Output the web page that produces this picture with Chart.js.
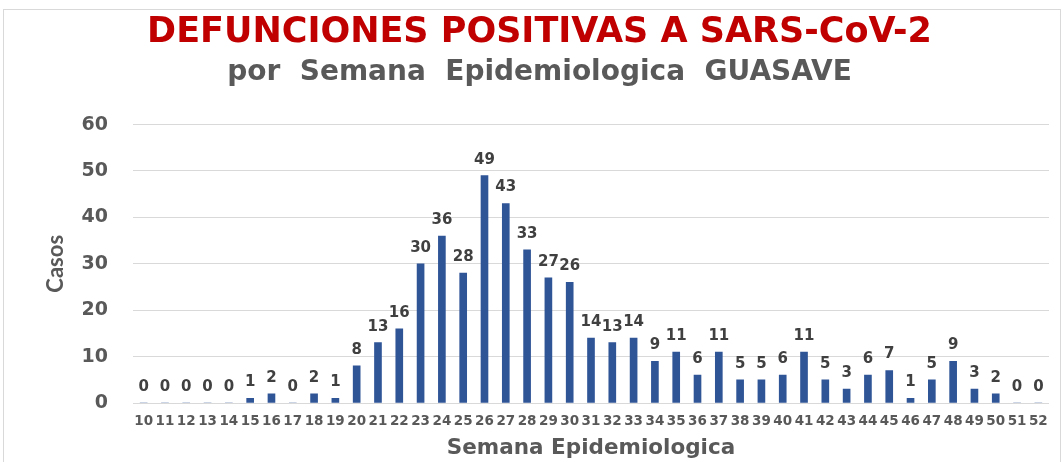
<!DOCTYPE html>
<html>
<head>
<meta charset="utf-8">
<script src="https://cdn.jsdelivr.net/npm/chart.js@4"></script>
<style>
  html, body { margin: 0; padding: 0; background: #ffffff; }
  #frame {
    position: absolute; left: 3px; top: 9px;
    width: 1056px; height: 460px;
    border: 1px solid #d9d9d9;
  }
  #wrap { position: absolute; left: 0; top: 0; width: 1063px; height: 462px; }
</style>
</head>
<body>
<div id="frame"></div>
<div id="wrap"><canvas id="myChart"></canvas></div>
<script>
// semanas epidemiologicas 10..52
const semanas = ['10', '11', '12', '13', '14', '15', '16', '17', '18', '19',
    '20', '21', '22', '23', '24', '25', '26', '27', '28', '29',
    '30', '31', '32', '33', '34', '35', '36', '37', '38', '39',
    '40', '41', '42', '43', '44', '45', '46', '47', '48', '49',
    '50', '51', '52'];

const defunciones = [0, 0, 0, 0, 0, 1, 2, 0, 2, 1,
    8, 13, 16, 30, 36, 28, 49, 43, 33, 27,
    26, 14, 13, 14, 9, 11, 6, 11, 5, 5,
    6, 11, 5, 3, 6, 7, 1, 5, 9, 3,
    2, 0, 0];

const yTicks = [0, 10, 20, 30, 40, 50, 60];

// etiquetas de valor encima de cada barra
const valueLabels = {
    id: 'valueLabels',
    afterDatasetsDraw(chart) {
        const ctx = chart.ctx;
        const meta = chart.getDatasetMeta(0);
        ctx.save();
        ctx.font = 'bold 15px "DejaVu Sans"';
        ctx.fillStyle = '#404040';
        ctx.textAlign = 'center';
        ctx.textBaseline = 'middle';
        meta.data.forEach(function (bar, i) {
            ctx.fillText(String(defunciones[i]), bar.x, bar.y - 16);
        });
        ctx.restore();
    }
};

const data = {
    labels: semanas,
    datasets: [{
        label: 'Defunciones',
        backgroundColor: '#2f5597',
        borderWidth: 0,
        barThickness: 7,
        data: defunciones,
    }]
};

const config = {
    type: 'bar',
    data: data,
    plugins: [valueLabels],
    options: {
        responsive: true,
        maintainAspectRatio: false,
        animation: false,
        layout: {
            padding: { left: 30, right: 14, top: 0, bottom: 0 }
        },
        plugins: {
            legend: { display: false },
            tooltip: { enabled: false },
            title: {
                display: true,
                text: 'DEFUNCIONES POSITIVAS A SARS-CoV-2',
                color: '#c00000',
                font: { family: '"DejaVu Sans"', size: 35, weight: 'bold', lineHeight: 1.2 },
                padding: { top: 12, bottom: 0 }
            },
            subtitle: {
                display: true,
                text: 'por  Semana  Epidemiologica  GUASAVE',
                color: '#595959',
                font: { family: '"DejaVu Sans"', size: 28, weight: 'bold', lineHeight: 1.2 },
                padding: { top: 2, bottom: 35 }
            }
        },
        scales: {
            x: {
                grid: { display: false, drawTicks: false },
                border: { display: false },
                ticks: {
                    autoSkip: false,
                    maxRotation: 0,
                    minRotation: 0,
                    padding: 10,
                    color: '#595959',
                    font: { family: '"DejaVu Sans"', size: 13.5, weight: 'bold' }
                },
                title: {
                    display: true,
                    text: 'Semana Epidemiologica',
                    color: '#595959',
                    font: { family: '"DejaVu Sans"', size: 21.5, weight: 'bold', lineHeight: 1.2 },
                    padding: { top: 0, bottom: 1 }
                },
                afterFit: function (scale) { scale.height = 59; }
            },
            y: {
                min: 0,
                max: 60,
                afterBuildTicks: function (scale) {
                    scale.ticks = yTicks.map(function (v) { return { value: v }; });
                },
                grid: { color: '#d9d9d9', lineWidth: 1, drawTicks: false },
                border: { display: false },
                ticks: {
                    padding: 25,
                    color: '#595959',
                    font: { family: '"DejaVu Sans"', size: 19, weight: 'bold' }
                },
                title: {
                    display: true,
                    text: 'Casos',
                    color: '#595959',
                    font: { family: 'Lato', size: 22, weight: 'bold', lineHeight: 1.2 },
                    padding: { top: 13, bottom: 0 }
                },
                afterFit: function (scale) { scale.width = 103; }
            }
        }
    }
};

const myChart = new Chart(
    document.getElementById('myChart'),
    config
);
</script>
</body>
</html>
